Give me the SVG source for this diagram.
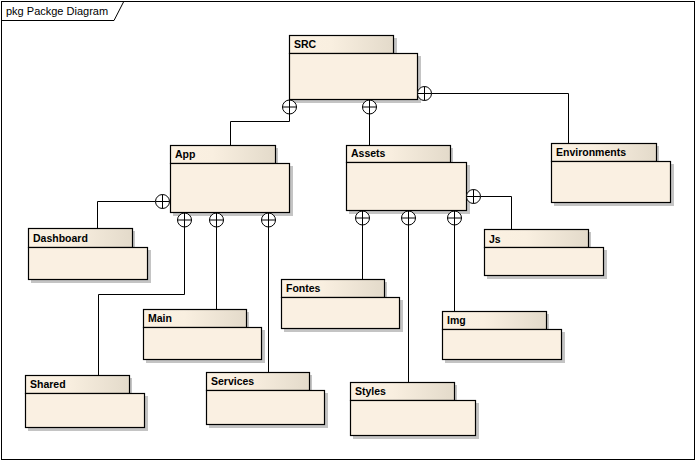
<svg xmlns="http://www.w3.org/2000/svg" width="696" height="461" viewBox="0 0 696 461">
  <defs>
    <linearGradient id="tabFill" x1="0" y1="0" x2="1" y2="0">
      <stop offset="0" stop-color="#FBF1E2"/>
      <stop offset="0.4" stop-color="#F9EFE0"/>
      <stop offset="1" stop-color="#E3DACA"/>
    </linearGradient>
    <!-- nesting connector end: circle with a cross -->
    <g id="nest">
      <circle cx="0" cy="0" r="7" fill="#FFFFFF" stroke="#000" stroke-width="1"/>
      <path d="M-7,0 H7 M0,-7 V7" stroke="#000" stroke-width="1" fill="none"/>
    </g>
  </defs>
  <style>
    .frame { fill: #FFFFFF; stroke: #000; stroke-width: 1; }
    .shadow { fill: #C4C4C4; }
    .tab { fill: url(#tabFill); stroke: #000; stroke-width: 1.2; }
    .body { fill: #FAF0E2; stroke: #000; stroke-width: 1.2; }
    .label { font-family: "Liberation Sans", Arial, sans-serif; font-size: 10.5px; font-weight: bold; fill: #000; }
    .title { font-family: "Liberation Sans", Arial, sans-serif; font-size: 11px; fill: #000; }
    .conn { fill: none; stroke: #000; stroke-width: 1; }
  </style>

  <!-- diagram frame -->
  <rect class="frame" x="1.5" y="1.5" width="693" height="458"/>
  <path d="M1.5,20.5 H114 L123.5,2" fill="none" stroke="#000" stroke-width="1"/>
  <text class="title" x="6" y="15">pkg Packge Diagram</text>

  <!-- connectors -->
  <g id="connectors">
    <path class="conn" d="M289.5,114 V121.5 H230.5 V145"/>
    <path class="conn" d="M369.5,114 V145"/>
    <path class="conn" d="M431.5,93.5 H568.5 V143"/>
    <path class="conn" d="M155,201.5 H97.5 V228"/>
    <path class="conn" d="M184.5,227 V294.5 H98.5 V375"/>
    <path class="conn" d="M216.5,227 V309"/>
    <path class="conn" d="M268.5,227 V372"/>
    <path class="conn" d="M481,196.5 H511.5 V229"/>
    <path class="conn" d="M362.5,225 V279"/>
    <path class="conn" d="M408.5,225 V382"/>
    <path class="conn" d="M454.5,225 V311"/>
  </g>

  <g id="SRC">
    <rect class="shadow" x="292" y="38" width="105" height="18"/>
    <rect class="shadow" x="292" y="56" width="129" height="47"/>
    <rect class="tab" x="289.5" y="35.5" width="104" height="18"/>
    <rect class="body" x="289.5" y="53.5" width="128" height="46"/>
    <text class="label" x="294" y="48">SRC</text>
  </g>

  <g id="App">
    <rect class="shadow" x="173" y="148" width="105" height="18"/>
    <rect class="shadow" x="173" y="166" width="120" height="50"/>
    <rect class="tab" x="170.5" y="145.5" width="105" height="18"/>
    <rect class="body" x="170.5" y="163.5" width="119" height="49"/>
    <text class="label" x="175" y="158">App</text>
  </g>

  <g id="Assets">
    <rect class="shadow" x="349" y="148" width="104" height="18"/>
    <rect class="shadow" x="349" y="165" width="121" height="49"/>
    <rect class="tab" x="346.5" y="145.5" width="104" height="17"/>
    <rect class="body" x="346.5" y="162.5" width="120" height="48"/>
    <text class="label" x="351" y="157">Assets</text>
  </g>

  <g id="Environments">
    <rect class="shadow" x="554" y="146" width="105" height="18"/>
    <rect class="shadow" x="554" y="164" width="120" height="42"/>
    <rect class="tab" x="551.5" y="143.5" width="105" height="18"/>
    <rect class="body" x="551.5" y="161.5" width="119" height="41"/>
    <text class="label" x="556" y="156">Environments</text>
  </g>

  <g id="Dashboard">
    <rect class="shadow" x="31" y="231" width="104" height="19"/>
    <rect class="shadow" x="31" y="250" width="120" height="33"/>
    <rect class="tab" x="28.5" y="228.5" width="104" height="19"/>
    <rect class="body" x="28.5" y="247.5" width="119" height="32"/>
    <text class="label" x="33" y="242">Dashboard</text>
  </g>

  <g id="Js">
    <rect class="shadow" x="487" y="232" width="104" height="18"/>
    <rect class="shadow" x="487" y="250" width="120" height="29"/>
    <rect class="tab" x="484.5" y="229.5" width="104" height="18"/>
    <rect class="body" x="484.5" y="247.5" width="119" height="28"/>
    <text class="label" x="489" y="243">Js</text>
  </g>

  <g id="Fontes">
    <rect class="shadow" x="284" y="282" width="103" height="18"/>
    <rect class="shadow" x="284" y="300" width="119" height="32"/>
    <rect class="tab" x="281.5" y="279.5" width="103" height="18"/>
    <rect class="body" x="281.5" y="297.5" width="118" height="31"/>
    <text class="label" x="286" y="292">Fontes</text>
  </g>

  <g id="Main">
    <rect class="shadow" x="146" y="312" width="103" height="18"/>
    <rect class="shadow" x="146" y="330" width="119" height="33"/>
    <rect class="tab" x="143.5" y="309.5" width="103" height="18"/>
    <rect class="body" x="143.5" y="327.5" width="118" height="32"/>
    <text class="label" x="148" y="322">Main</text>
  </g>

  <g id="Img">
    <rect class="shadow" x="445" y="314" width="104" height="18"/>
    <rect class="shadow" x="445" y="332" width="120" height="31"/>
    <rect class="tab" x="442.5" y="311.5" width="104" height="18"/>
    <rect class="body" x="442.5" y="329.5" width="119" height="30"/>
    <text class="label" x="447" y="324">Img</text>
  </g>

  <g id="Services">
    <rect class="shadow" x="209" y="375" width="103" height="18"/>
    <rect class="shadow" x="209" y="393" width="119" height="35"/>
    <rect class="tab" x="206.5" y="372.5" width="103" height="18"/>
    <rect class="body" x="206.5" y="390.5" width="118" height="34"/>
    <text class="label" x="211" y="385">Services</text>
  </g>

  <g id="Shared">
    <rect class="shadow" x="28" y="378" width="104" height="18"/>
    <rect class="shadow" x="28" y="396" width="120" height="35"/>
    <rect class="tab" x="25.5" y="375.5" width="104" height="18"/>
    <rect class="body" x="25.5" y="393.5" width="119" height="34"/>
    <text class="label" x="30" y="388">Shared</text>
  </g>

  <g id="Styles">
    <rect class="shadow" x="353" y="385" width="104" height="18"/>
    <rect class="shadow" x="353" y="403" width="126" height="36"/>
    <rect class="tab" x="350.5" y="382.5" width="104" height="18"/>
    <rect class="body" x="350.5" y="400.5" width="125" height="35"/>
    <text class="label" x="355" y="395">Styles</text>
  </g>

  <!-- nesting ends on the owning packages -->
  <g id="nesting-ends">
    <use href="#nest" x="289.5" y="107"/>
    <use href="#nest" x="369.5" y="107"/>
    <use href="#nest" x="424.5" y="93.5"/>
    <use href="#nest" x="162.5" y="201.5"/>
    <use href="#nest" x="184.5" y="220"/>
    <use href="#nest" x="216.5" y="220"/>
    <use href="#nest" x="268.5" y="220"/>
    <use href="#nest" x="473.5" y="196.5"/>
    <use href="#nest" x="362.5" y="218"/>
    <use href="#nest" x="408.5" y="218"/>
    <use href="#nest" x="454.5" y="218"/>
  </g>
</svg>
